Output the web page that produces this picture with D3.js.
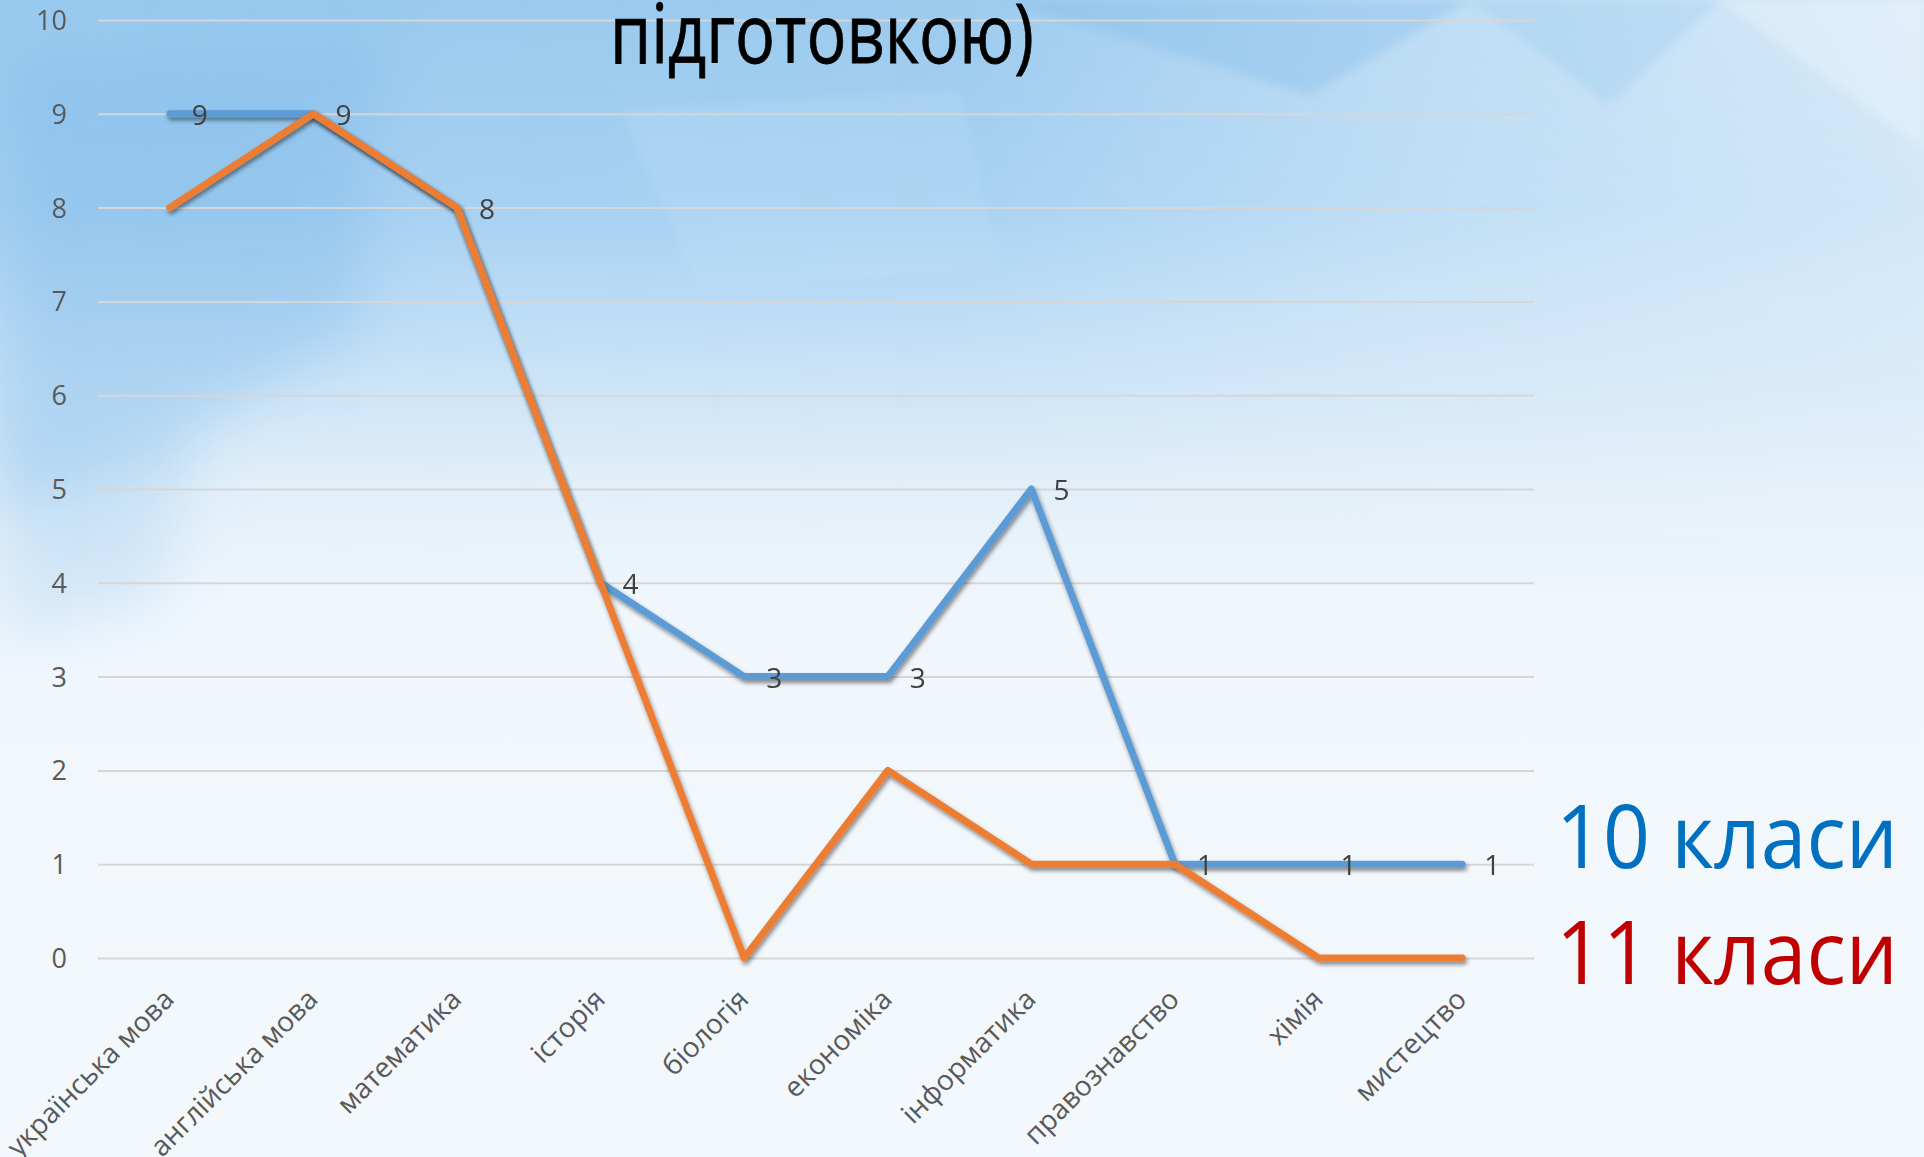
<!DOCTYPE html>
<html>
<head>
<meta charset="utf-8">
<script src="https://cdn.jsdelivr.net/npm/d3@7"></script>
<style>
  html, body { margin: 0; padding: 0; background: #f3f8fc; }
  svg { display: block; }
  text { font-family: "Open Sans", "Noto Sans", sans-serif; }
</style>
</head>
<body>
<svg id="chart" width="1924" height="1157"></svg>
<script>
// ---------- data ----------
const categories = ["українська мова", "англійська мова", "математика", "історія", "біологія",
                    "економіка", "інформатика", "правознавство", "хімія", "мистецтво"];
const grade10 = [9, 9, 8, 4, 3, 3, 5, 1, 1, 1];
const grade11 = [8, 9, 8, 4, 0, 2, 1, 1, 0, 0];
const yTicks = [0, 1, 2, 3, 4, 5, 6, 7, 8, 9, 10];
const seriesNames = ["10 класи", "11 класи"];
const titleText = "підготовкою)";

// ---------- setup ----------
const W = 1924, H = 1157;
const svg = d3.select("#chart");
const defs = svg.append("defs");

// background
const bg = defs.append("linearGradient").attr("id", "bgGrad")
  .attr("x1", 0).attr("y1", 0).attr("x2", 0).attr("y2", 1);
[[0, "#98c9ee"], [0.18, "#a6d1f2"], [0.3, "#c4e0f6"], [0.42, "#e2eff9"], [0.52, "#eff6fc"], [0.65, "#f2f7fc"], [1, "#f3f8fc"]]
  .forEach(([o, c]) => bg.append("stop").attr("offset", o).attr("stop-color", c));
const bgR = defs.append("linearGradient").attr("id", "bgRight")
  .attr("x1", 0).attr("y1", 0).attr("x2", 1).attr("y2", 0);
[[0, "#ffffff", 0], [0.5, "#ffffff", 0.04], [0.72, "#ffffff", 0.35], [1, "#ffffff", 0.62]]
  .forEach(([o, c, a]) => bgR.append("stop").attr("offset", o).attr("stop-color", c).attr("stop-opacity", a));
const fade = defs.append("linearGradient").attr("id", "fadeDown")
  .attr("x1", 0).attr("y1", 0).attr("x2", 0).attr("y2", 1);
[[0, "#fff", 1], [0.5, "#fff", 0.7], [1, "#fff", 0]]
  .forEach(([o, c, a]) => fade.append("stop").attr("offset", o).attr("stop-color", c).attr("stop-opacity", a));
const mask = defs.append("mask").attr("id", "topMask");
mask.append("rect").attr("width", W).attr("height", 600).attr("fill", "url(#fadeDown)");
defs.append("filter").attr("id", "soft").append("feGaussianBlur").attr("stdDeviation", 4);
defs.append("filter").attr("id", "verysoft").attr("x", "-30%").attr("y", "-30%").attr("width", "160%").attr("height", "160%")
  .append("feGaussianBlur").attr("stdDeviation", 30);

svg.append("rect").attr("width", W).attr("height", H).attr("fill", "url(#bgGrad)");
svg.append("polygon").attr("points", "0,60 380,40 360,330 120,470 0,520")
  .attr("fill", "#78b6e8").attr("opacity", 0.35).attr("filter", "url(#verysoft)");
svg.append("polygon").attr("points", "0,380 200,420 160,600 0,640")
  .attr("fill", "#a9d1f1").attr("opacity", 0.4).attr("filter", "url(#verysoft)");
svg.append("rect").attr("width", W).attr("height", 600).attr("fill", "url(#bgRight)").attr("mask", "url(#topMask)");
const facets = svg.append("g").attr("filter", "url(#soft)");
facets.append("polygon").attr("points", "1000,0 1470,0 1310,95").attr("fill", "#7ab7e8").attr("opacity", 0.32);
facets.append("polygon").attr("points", "1470,0 1720,0 1608,105").attr("fill", "#8cc2ec").attr("opacity", 0.25);
facets.append("polygon").attr("points", "620,110 960,90 1000,270 700,290").attr("fill", "#d3e8f8").attr("opacity", 0.15);
facets.append("polygon").attr("points", "1720,0 1924,0 1924,150").attr("fill", "#ffffff").attr("opacity", 0.25);

// drop shadow for lines
const sh = defs.append("filter").attr("id", "shadow")
  .attr("x", "-5%").attr("y", "-5%").attr("width", "110%").attr("height", "110%");
sh.append("feDropShadow").attr("dx", 1.5).attr("dy", 3).attr("stdDeviation", 2)
  .attr("flood-color", "#000").attr("flood-opacity", 0.45);

// ---------- scales ----------
const plot = { left: 98, right: 1534, top: 20, bottom: 958 };
const x = d3.scalePoint().domain(categories).range([plot.left, plot.right]).padding(0.5);
const y = d3.scaleLinear().domain([0, 10]).range([plot.bottom, plot.top]);

// gridlines + y labels
const yAxis = svg.append("g").attr("transform", `translate(${plot.left},0)`)
  .call(d3.axisLeft(y).tickValues(yTicks).tickSize(-(plot.right - plot.left)).tickPadding(31).tickFormat(d3.format("d")));
yAxis.select(".domain").remove();
yAxis.selectAll(".tick line").attr("stroke", "#d6d6d6").attr("stroke-width", 2);
yAxis.selectAll(".tick text").attr("fill", "#595959").attr("font-size", 27).attr("dy", "0.35em");

// x labels
const xl = svg.append("g");
xl.selectAll("text").data(categories).enter().append("text")
  .attr("transform", d => `translate(${x(d) + 6},${plot.bottom + 43}) rotate(-45)`)
  .attr("text-anchor", "end")
  .attr("fill", "#595959").attr("font-size", 28)
  .text(d => d);

// title
svg.append("text").attr("x", 610).attr("y", 63)
  .attr("font-size", 82).attr("fill", "#000").attr("stroke", "#000").attr("stroke-width", 0.8)
  .attr("textLength", 424).attr("lengthAdjust", "spacingAndGlyphs")
  .text(titleText);

// lines
const line = d3.line().x((d, i) => x(categories[i])).y(d => y(d));
const series = [
  { name: seriesNames[0], values: grade10, color: "#5b9bd5" },
  { name: seriesNames[1], values: grade11, color: "#ed7d31" }
];
svg.append("g").selectAll("path").data(series).enter().append("path")
  .attr("d", d => line(d.values))
  .attr("fill", "none").attr("stroke", d => d.color).attr("stroke-width", 7)
  .attr("stroke-linejoin", "round").attr("stroke-linecap", "round")
  .attr("filter", "url(#shadow)");

// data labels (10 класи)
svg.append("g").selectAll("text").data(grade10).enter().append("text")
  .attr("x", (d, i) => x(categories[i]) + 22)
  .attr("y", d => y(d) + 11)
  .attr("fill", "#404040").attr("font-size", 28)
  .text(d => d);

// legend labels
const legendColors = ["#0070c0", "#c00000"];
const legendBase = [868, 984];
svg.append("g").selectAll("text").data(seriesNames).enter().append("text")
  .attr("x", 1556).attr("y", (d, i) => legendBase[i])
  .attr("fill", (d, i) => legendColors[i]).attr("font-size", 87)
  .attr("textLength", 342).attr("lengthAdjust", "spacingAndGlyphs")
  .text(d => d);
</script>
</body>
</html>
